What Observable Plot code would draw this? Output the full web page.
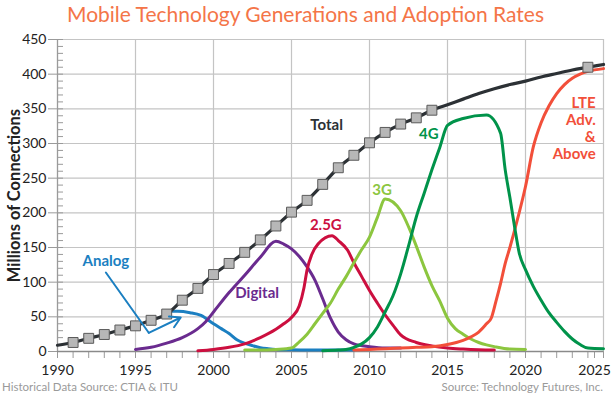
<!DOCTYPE html>
<html>
<head>
<meta charset="utf-8">
<script src="https://cdn.jsdelivr.net/npm/d3@7"></script>
<script src="https://cdn.jsdelivr.net/npm/@observablehq/plot@0.6"></script>
<style>
  html, body { margin: 0; padding: 0; background: #fff; }
  body { width: 611px; height: 396px; overflow: hidden; font-family: Lato, "Open Sans", sans-serif; }
  #title { height: 28px; line-height: 28px; text-align: center; font-size: 21px; color: #f47548; white-space: nowrap; }
  #caption { position: relative; height: 18px; font-size: 11.5px; color: #9a9a9a; line-height: 18px; }
  #caption .l { position: absolute; left: 2px; }
  #caption .r { position: absolute; right: 8px; }
  svg { display: block; }
</style>
</head>
<body>
<div id="title">Mobile Technology Generations and Adoption Rates</div>
<div id="chart"></div>
<div id="caption"><span class="l">Historical Data Source: CTIA &amp; ITU</span><span class="r">Source: Technology Futures, Inc.</span></div>
<script>
// ---- data ----
const totalYears  = [1990,1991,1992,1993,1994,1995,1996,1997,1998,1999,2000,2001,2002,2003,2004,2005,2006,2007,2008,2009,2010,2011,2012,2013,2014,2015,2016,2017,2018,2019,2020,2021,2022,2023,2024,2025];
const totalValues = [9,13,19,24.5,31,37,45,54,74,91,111,127,143,161,181,201,218,241,265,283,301,316,328,337,348,356,364,372,379,385,390,396,401,406,410,414];
const markerYears = [1991,1992,1993,1994,1995,1996,1997,1998,1999,2000,2001,2002,2003,2004,2005,2006,2007,2008,2009,2010,2011,2012,2013,2014,2024];

const analogYears  = [1997.1,1997.7,1998.5,1999.2,2000,2000.5,2001,2001.5,2002,2002.5,2003,2003.5,2004,2005,2007,2009];
const analogValues = [58,58,56,52,40,33,26,17,12,8.5,5.5,4,3,2.5,2,2];

const digitalYears  = [1995,1996,1997,1998,1999,1999.5,2000,2001,2002,2003,2004,2004.5,2005,2005.5,2006,2006.5,2007,2007.5,2008,2008.5,2009,2010,2011,2012];
const digitalValues = [3,6,12,20,33,43,57,85,110,136,159,155,148,137,122,103,76,48,28,17,11,7,5,5];

const g25Years  = [1999,2000,2001,2002,2003,2004,2004.5,2005,2005.5,2005.8,2006,2006.3,2006.7,2007.6,2008,2008.6,2009,2009.5,2010,2010.5,2011,2011.5,2012,2013,2014,2015,2016,2017,2018];
const g25Values = [1,3,6,11,20,32,40,49,66,92,118,140,155,167,160,146,128,108,88,70,53,38,24,13,8,5,3.5,2.5,2];

const g3Years  = [2002,2003,2004,2005,2005.5,2006,2006.5,2007,2007.5,2008,2008.5,2009,2009.5,2010,2010.5,2011,2012,2012.5,2013,2013.5,2014,2014.5,2015,2015.5,2016,2016.5,2017,2017.5,2018,2019,2020];
const g3Values = [2,2,3,5,14,25,40,55,70,90,108,128,147,165,193,220,203,180,152,122,95,73,48,33,25,18,13,9.5,7,3.5,3];

const g4Years  = [2007,2008,2008.5,2009,2009.5,2010,2010.5,2011,2011.5,2012,2012.5,2013,2013.5,2014,2014.5,2015,2016,2017.5,2018.4,2018.7,2019,2019.3,2019.6,2020,2020.5,2021,2021.5,2022,2022.5,2023,2023.5,2024,2025];
const g4Values = [1,2,3,6,11,20,35,57,80,112,152,194,228,262,294,326,336,341,315,262,222,180,142,118,94,74,56,42,29,18,10,5,4];

const lteYears  = [2009,2010,2011,2012,2013,2014,2015,2016,2016.5,2017,2017.5,2017.8,2018.1,2018.4,2018.7,2019,2019.5,2020,2020.5,2021,2021.5,2022,2022.5,2023,2023.5,2024,2025];
const lteValues = [2,3,4,5,6,7,10,16,21,28,40,48,72,98,127,150,192,238,295,330,354,372,385,394,400,404,408];

const yTicks = [0,50,100,150,200,250,300,350,400,450];
const yMinor = d3.range(0, 451, 10);
const xTicks = [1990,1995,2000,2005,2010,2015,2020,2025];
const xMinor = d3.range(1990, 2026, 1);

// series labels: name, anchor year, anchor value
const labelNames  = ["Total","Analog","Digital","2.5G","3G","4G","LTE\nAdv.\n&\nAbove"];
const labelYears  = [2007.25,1993.1,2002.8,2007.2,2010.8,2013.8,2024.5];
const labelValues = [326,130,84,182,232,313,322];

// Analog callout path (label -> elbow -> arrow tip)
const calloutYears  = [1993.1,1995.85,1997.9];
const calloutValues = [114,27,49];

// ---- build ----
const colors = {
  Total: "#2c3135", Analog: "#1b7fc1", Digital: "#6a2b8f", "2.5G": "#cc0f3f",
  "3G": "#8cc63f", "4G": "#00934a", LTE: "#f24f3a"
};
const zip = (xs, ys) => xs.map((x, i) => ({x, y: ys[i]}));
const seriesList = [
  ["Analog", analogYears, analogValues],
  ["Digital", digitalYears, digitalValues],
  ["2.5G", g25Years, g25Values],
  ["3G", g3Years, g3Values],
  ["LTE", lteYears, lteValues],
  ["4G", g4Years, g4Values]
];
const totalData = zip(totalYears, totalValues);
const markerData = markerYears.map(y => ({x: y, y: totalValues[totalYears.indexOf(y)]}));
const labelColors = [colors.Total, colors.Analog, colors.Digital, colors["2.5G"], colors["3G"], colors["4G"], colors.LTE];
const labels = labelNames.map((t, i) => ({t, x: labelYears[i], y: labelValues[i], c: labelColors[i], anchor: i === 6 ? "end" : "middle"}));
const callout = zip(calloutYears, calloutValues);

const W = 611, H = 350, mL = 57, mR = 8, mT = 11, mB = 27;
const lastTick = xTicks[xTicks.length - 1];

const marks = [
  Plot.gridX({ticks: xTicks, stroke: "#c4c4c4", strokeOpacity: 1, strokeWidth: 1.2}),
  Plot.gridY({ticks: yTicks, stroke: "#c4c4c4", strokeOpacity: 1, strokeWidth: 1.2}),
  Plot.tickY(yMinor, {y: d => d, stroke: "#9a9a9a", strokeWidth: 1, insetRight: W - mL - mR - 6}),
  Plot.axisX({ticks: xMinor, tickSize: 7, tickFormat: () => "", stroke: "#9a9a9a"}),
  Plot.axisX({ticks: xTicks.slice(0, -1), tickSize: 7, tickPadding: 7, tickFormat: d => String(d), fontSize: 14, color: "#222", stroke: "#9a9a9a", label: null}),
  Plot.axisX({ticks: [lastTick], tickSize: 7, tickPadding: 7, tickFormat: d => String(d), fontSize: 14, color: "#222", stroke: "#9a9a9a", label: null, dx: -9}),
  Plot.axisY({ticks: yTicks, tickSize: 9, tickPadding: 2, fontSize: 14, color: "#222", stroke: "#9a9a9a", label: null}),
  Plot.ruleY([0], {stroke: "#8a8a8a", strokeWidth: 1.5}),
  Plot.ruleX([1990], {stroke: "#9a9a9a", strokeWidth: 1.2}),
  Plot.text(["Millions of Connections"], {text: d => d, frameAnchor: "left", textAnchor: "middle", rotate: -90, dx: -43, fontSize: 16.5, fontWeight: "bold", fill: "#222"}),
  ...seriesList.map(([name, xs, ys]) =>
    Plot.line(zip(xs, ys), {x: "x", y: "y", stroke: colors[name], strokeWidth: 3, curve: "monotone-x"})),
  Plot.line(totalData, {x: "x", y: "y", stroke: colors.Total, strokeWidth: 3.2, curve: "monotone-x"}),
  Plot.dot(markerData, {x: "x", y: "y", symbol: "square", r: 5.6, fill: "#b7b7b7", stroke: "#5a5a5a", strokeWidth: 1}),
  Plot.line(callout.slice(0, 2), {x: "x", y: "y", stroke: colors.Analog, strokeWidth: 2}),
  Plot.arrow([{x1: callout[1].x, y1: callout[1].y, x2: callout[2].x, y2: callout[2].y}], {x1: "x1", y1: "y1", x2: "x2", y2: "y2", stroke: colors.Analog, strokeWidth: 2, headLength: 9, bend: 0}),
  Plot.text(labels.filter(d => d.anchor === "middle"), {x: "x", y: "y", text: "t", fill: "c", fontSize: 15, fontWeight: "bold", textAnchor: "middle"}),
  Plot.text(labels.filter(d => d.anchor === "end"), {x: "x", y: "y", text: "t", fill: "c", fontSize: 15, fontWeight: "bold", textAnchor: "end", lineHeight: 1.13})
];

const chart = Plot.plot({
  width: W, height: H,
  marginLeft: mL, marginRight: mR, marginTop: mT, marginBottom: mB,
  style: {fontFamily: "Lato, 'Open Sans', sans-serif", background: "white", overflow: "visible"},
  x: {domain: [1990, 2025], axis: null},
  y: {domain: [0, 450], axis: null},
  marks
});
document.getElementById("chart").appendChild(chart);
</script>
</body>
</html>
